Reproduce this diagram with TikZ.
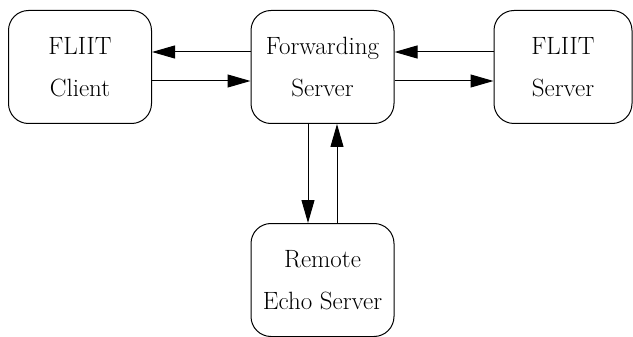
\documentclass[tikz,border=0pt]{standalone}
\usetikzlibrary{arrows.meta}
\begin{document}
\begin{tikzpicture}[x=1pt,y=-1pt,
  box/.style={draw,line width=1pt,rounded corners=20pt,minimum width=143pt,minimum height=113pt,align=center,inner sep=0pt,font=\fontsize{25}{42}\selectfont},
  arr/.style={line width=1pt,-{Triangle[length=23pt,width=13pt]}}]
\useasboundingbox (0,0) rectangle (633,337);
\node[box] (client) at (80,67) {FLIIT\\Client};
\node[box] (fwd) at (322.5,67) {Forwarding\\Server};
\node[box,minimum width=138pt] (srv) at (563,67) {FLIIT\\Server};
\node[box] (echo) at (322.5,280) {Remote\\Echo Server};
\draw[arr] ([yshift=15pt]fwd.west) -- ([yshift=15pt]client.east);
\draw[arr] ([yshift=-14pt]client.east) -- ([yshift=-14pt]fwd.west);
\draw[arr] ([yshift=15pt]srv.west) -- ([yshift=15pt]fwd.east);
\draw[arr] ([yshift=-14pt]fwd.east) -- ([yshift=-14pt]srv.west);
\draw[arr] ([xshift=-14.5pt]fwd.south) -- ([xshift=-14.5pt]echo.north);
\draw[arr] ([xshift=14.5pt]echo.north) -- ([xshift=14.5pt]fwd.south);
\end{tikzpicture}
\end{document}
